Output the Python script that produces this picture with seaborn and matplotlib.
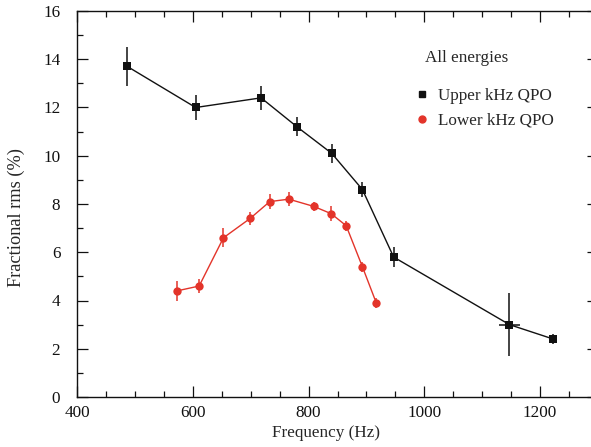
import numpy as np
import pandas as pd
import matplotlib
matplotlib.use("Agg")
import matplotlib.pyplot as plt
from matplotlib.lines import Line2D
from matplotlib.ticker import MultipleLocator
import seaborn as sns

# Upper kHz QPO
upper_freq = [487, 605, 718, 780, 840, 893, 947, 1147, 1223]
upper_rms = [13.7, 12.0, 12.4, 11.2, 10.1, 8.6, 5.8, 3.0, 2.4]
upper_err = [0.8, 0.5, 0.5, 0.4, 0.4, 0.3, 0.4, 1.3, 0.2]
upper_ferr = [0, 0, 0, 0, 0, 0, 0, 18, 0]

# Lower kHz QPO
lower_freq = [573, 611, 653, 699, 733, 766, 809, 839, 865, 893, 917]
lower_rms = [4.4, 4.6, 6.6, 7.4, 8.1, 8.2, 7.9, 7.6, 7.1, 5.4, 3.9]
lower_err = [0.4, 0.3, 0.4, 0.25, 0.3, 0.3, 0.2, 0.3, 0.2, 0.2, 0.2]

series_names = ["Upper kHz QPO", "Lower kHz QPO"]
legend_title = "All energies"

BLACK = "#111111"
RED = "#e3342a"
FS = 12.3

sns.set_theme(style="ticks")
plt.rcParams["font.family"] = ["Liberation Serif", "DejaVu Serif"]

df = pd.concat([
    pd.DataFrame({"freq": upper_freq, "rms": upper_rms, "qpo": series_names[0]}),
    pd.DataFrame({"freq": lower_freq, "rms": lower_rms, "qpo": series_names[1]}),
])

W, H = 591, 447
fig = plt.figure(figsize=(W / 100, H / 100), dpi=100)
x0, x1, y0, y1 = 77, 598, 11, 397
ax = fig.add_axes([x0 / W, 1 - y1 / H, (x1 - x0) / W, (y1 - y0) / H])

# error bars
ax.errorbar(upper_freq, upper_rms, yerr=upper_err, xerr=upper_ferr, fmt="none",
            ecolor=BLACK, elinewidth=1.1, capsize=0, zorder=2)
ax.errorbar(lower_freq, lower_rms, yerr=lower_err, fmt="none",
            ecolor=RED, elinewidth=1.1, capsize=0, zorder=2)

sns.lineplot(data=df, x="freq", y="rms", hue="qpo", style="qpo",
             palette={series_names[0]: BLACK, series_names[1]: RED},
             markers={series_names[0]: "s", series_names[1]: "o"},
             dashes=False, sort=False, linewidth=1.0,
             markersize=6.0, markeredgewidth=0, legend=False, ax=ax, zorder=3)

ax.set_xlim(400, 1300)
ax.set_ylim(0, 16)
ax.xaxis.set_major_locator(MultipleLocator(200))
ax.xaxis.set_minor_locator(MultipleLocator(50))
ax.yaxis.set_major_locator(MultipleLocator(2))
ax.yaxis.set_minor_locator(MultipleLocator(1))
ax.tick_params(which="both", direction="in", top=True, right=True,
               labelsize=FS, width=0.9, colors="#111111")
ax.tick_params(axis="y", pad=12)
ax.tick_params(axis="x", pad=6)
ax.tick_params(which="major", length=8)
ax.tick_params(which="minor", length=4.5)
for s in ax.spines.values():
    s.set_linewidth(1.0)
    s.set_color("#111111")

ax.set_xlabel("Frequency (Hz)", fontsize=FS)
ax.set_ylabel("Fractional rms (%)", fontsize=13.2)
ax.xaxis.set_label_coords((326 - x0) / (x1 - x0), -(433 - y1) / (y1 - y0))
ax.yaxis.set_label_coords(-(x0 - 16) / (x1 - x0), (y1 - 218) / (y1 - y0))
ax.xaxis.label.set_va("center")
ax.yaxis.label.set_va("center")

# legend: heading plus marker-only entries
ax.text((425 - x0) / (x1 - x0), (y1 - 58) / (y1 - y0), legend_title,
        transform=ax.transAxes, fontsize=FS, ha="left", va="center")
handles = [
    Line2D([], [], linestyle="none", marker="s", color=BLACK, markersize=5),
    Line2D([], [], linestyle="none", marker="o", color=RED, markersize=5),
]
ax.legend(handles, series_names, loc="upper left",
          bbox_to_anchor=((417 - x0) / (x1 - x0), (y1 - 88) / (y1 - y0)),
          frameon=False, fontsize=FS, handlelength=0.6, handletextpad=0.6,
          labelspacing=0.5, borderpad=0, borderaxespad=0)

fig.savefig("out.png", dpi=100)
